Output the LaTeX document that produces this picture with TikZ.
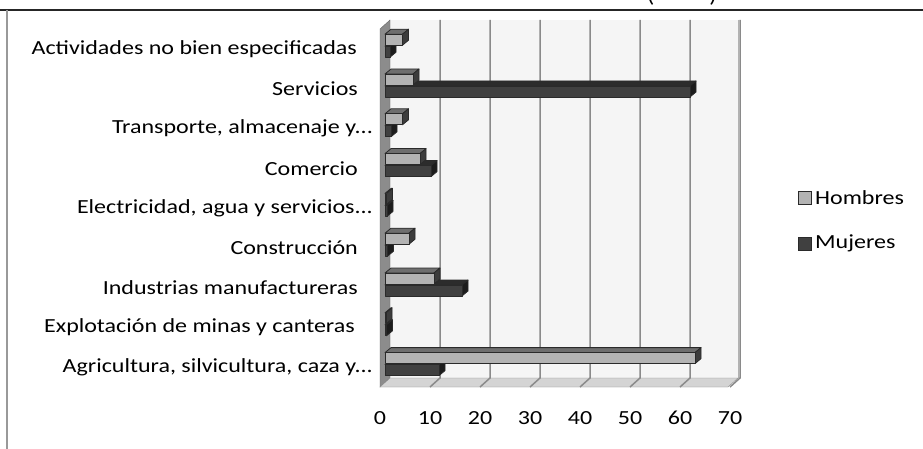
\documentclass[tikz,border=0pt]{standalone}
\usepackage{fontspec}
\setmainfont{Carlito}[FakeStretch=1.2]
\definecolor{wall}{HTML}{F5F5F5}
\definecolor{sidewall}{HTML}{8C8C8C}
\definecolor{floorgray}{HTML}{D4D4D4}
\definecolor{gridgray}{HTML}{8A8A8A}
\definecolor{barline}{HTML}{2A2A2A}
\definecolor{hfront}{HTML}{B3B3B3}
\definecolor{htop}{HTML}{6E6E6E}
\definecolor{hside}{HTML}{3C3C3C}
\definecolor{mfront}{HTML}{404040}
\definecolor{mtop}{HTML}{2C2C2C}
\definecolor{mside}{HTML}{1C1C1C}
\begin{document}
\begin{tikzpicture}[x=1pt,y=-1pt,
	grid/.style={draw=gridgray,line width=1.5pt},
	bar/.style={draw=barline,line width=0.8pt,line join=round},
	cat/.style={anchor=east,inner sep=0pt},
	key/.style={draw=barline,line width=0.8pt,minimum size=13pt,inner sep=0pt}]
\fontsize{20}{24}\selectfont
\useasboundingbox (0,0) rectangle (923,449);
\fill[white] (0,0) rectangle (923,449);
% frame and cut title
\node[anchor=base,inner sep=0pt] (title) at (682,3) {(\hspace{55pt})};
\draw[color=black!85,line width=2.5pt] (0,10) -- (923,10);
\draw[color=black!40,line width=2pt] (7,10) -- (7,449);
% walls and floor
\fill[wall] (390,20) rectangle (738,378);
\draw[color=black!30,line width=1pt] (738,20) -- (738,378);
\filldraw[fill=sidewall,draw=black!60] (380,29) -- (390,20) -- (390,378) -- (380,387) -- cycle;
\filldraw[fill=floorgray,draw=black!45] (390,378) -- (738,378) -- (728,387) -- (380,387) -- cycle;
\foreach \k in {1,...,7}{
	\draw[grid] (390+50*\k,20) -- (390+50*\k,378) -- (380+50*\k,387);}
% bars: Hombres on top, Mujeres below
\foreach \i/\h/\m in {0/3.5/1,1/5.6/61,2/3.5/1.2,3/7/9.2,4/0.3/0.4,5/4.8/0.5,6/9.8/15.4,7/0.2/0.3,8/62/10.8}{
	\pgfmathsetmacro{\c}{46.2+39.8*\i}
	\pgfmathsetmacro{\xm}{385+5*\m}
	\pgfmathsetmacro{\xh}{385+5*\h}
	\filldraw[bar,fill=mtop] (385,\c) -- (\xm,\c) -- (\xm+6,\c-5) -- (391,\c-5) -- cycle;
	\filldraw[bar,fill=mside] (\xm,\c) -- (\xm+6,\c-5) -- (\xm+6,\c+6) -- (\xm,\c+11) -- cycle;
	\filldraw[bar,fill=mfront] (385,\c) rectangle (\xm,\c+11);
	\filldraw[bar,fill=htop] (385,\c-12) -- (\xh,\c-12) -- (\xh+6,\c-17) -- (391,\c-17) -- cycle;
	\filldraw[bar,fill=hside] (\xh,\c-12) -- (\xh+6,\c-17) -- (\xh+6,\c-6) -- (\xh,\c-1) -- cycle;
	\filldraw[bar,fill=hfront] (385,\c-12) rectangle (\xh,\c-1);}
% category labels
\foreach \i/\xr/\txt in {0/357/{Actividades no bien especificadas},1/358/{Servicios},
	2/373/{Transporte, almacenaje y...},3/358/{Comercio},4/373/{Electricidad, agua y servicios...},
	5/358/{Construcción},6/358/{Industrias manufactureras},7/355/{Explotación de minas y canteras},
	8/373/{Agricultura, silvicultura, caza y...}}{
	\node[cat] (cat\i) at (\xr,48.9+39.8*\i) {\txt};}
% value axis
\foreach \k in {0,...,7}{
	\pgfmathtruncatemacro{\v}{10*\k}
	\node[anchor=base,inner sep=0pt] (tick\k) at (380+50*\k,424) {\v};}
% legend
\node[key,fill=hfront] (keyH) at (804.5,197.5) {};
\node[anchor=west,inner sep=0pt] (legH) at (815,197.5) {Hombres};
\node[key,fill=mfront] (keyM) at (804.5,243.5) {};
\node[anchor=west,inner sep=0pt] (legM) at (815,243.5) {Mujeres};
\end{tikzpicture}
\end{document}
